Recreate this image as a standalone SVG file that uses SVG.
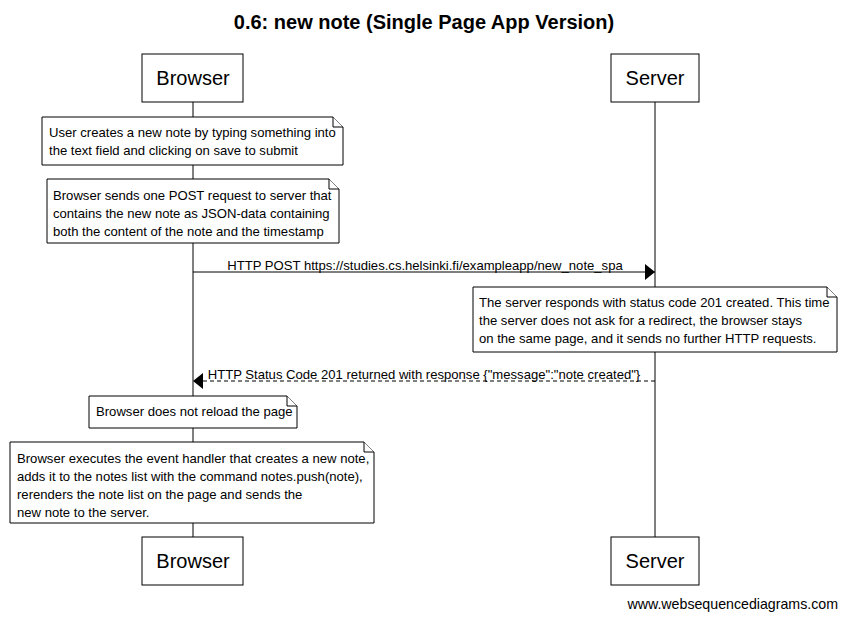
<svg xmlns="http://www.w3.org/2000/svg" width="846" height="620" viewBox="0 0 846 620">
<defs>
<style>
.box{fill:#fff;stroke:#000;stroke-width:1}
.note{fill:#fff;stroke:#000;stroke-width:1}
.life{stroke:#000;stroke-width:1}
.t{font-family:"Liberation Sans",Arial,sans-serif;font-size:13.1px;fill:#000}
.p{font-family:"Liberation Sans",Arial,sans-serif;font-size:20px;fill:#000;text-anchor:middle}
.title{font-family:"Liberation Sans",Arial,sans-serif;font-size:20px;font-weight:bold;text-anchor:middle}
.foot{font-family:"Liberation Sans",Arial,sans-serif;font-size:14.2px;fill:#000;text-anchor:end}
.msg{stroke:#000;stroke-width:1;fill:none}
</style>
<marker id="ah" markerWidth="10" markerHeight="16" refX="10" refY="8" orient="auto" markerUnits="userSpaceOnUse">
<path d="M0,0 L10,8 L0,16 Z" fill="#000"/>
</marker>
</defs>
<rect width="846" height="620" fill="#fff"/>
<text class="title" x="424" y="29">0.6: new note (Single Page App Version)</text>
<g id="lifelines">
<line class="life" x1="193" y1="102" x2="193" y2="537"/>
<line class="life" x1="655" y1="102" x2="655" y2="537"/>
</g>
<g id="browser-top"><rect class="box" x="142" y="54" width="101" height="48"/><text class="p" x="193" y="85">Browser</text></g>
<g id="server-top"><rect class="box" x="611" y="54" width="88" height="48"/><text class="p" x="655" y="85">Server</text></g>
<g id="browser-bottom"><rect class="box" x="142" y="537" width="101" height="48"/><text class="p" x="193" y="568">Browser</text></g>
<g id="server-bottom"><rect class="box" x="611" y="537" width="88" height="48"/><text class="p" x="655" y="568">Server</text></g>
<g id="note1">
<path class="note" d="M42,117 H333 L343,127 V165 H42 Z"/><path class="note" d="M333,117 V127 H343"/>
<text class="t" x="49" y="137">User creates a new note by typing something into</text>
<text class="t" x="49" y="155">the text field and clicking on save to submit</text>
</g>
<g id="note2">
<path class="note" d="M47,179 H329 L339,189 V243 H47 Z"/><path class="note" d="M329,179 V189 H339"/>
<text class="t" x="53" y="200">Browser sends one POST request to server that</text>
<text class="t" x="53" y="218">contains the new note as JSON-data containing</text>
<text class="t" x="53" y="236">both the content of the note and the timestamp</text>
</g>
<g id="note3">
<path class="note" d="M473,287 H827 L837,297 V352 H473 Z"/><path class="note" d="M827,287 V297 H837"/>
<text class="t" x="479" y="307">The server responds with status code 201 created. This time</text>
<text class="t" x="479" y="325">the server does not ask for a redirect, the browser stays</text>
<text class="t" x="479" y="343">on the same page, and it sends no further HTTP requests.</text>
</g>
<g id="note4">
<path class="note" d="M89,396 H287 L297,406 V428 H89 Z"/><path class="note" d="M287,396 V406 H297"/>
<text class="t" x="96" y="416">Browser does not reload the page</text>
</g>
<g id="note5">
<path class="note" d="M10,442 H364 L374,452 V523 H10 Z"/><path class="note" d="M364,442 V452 H374"/>
<text class="t" x="17" y="463">Browser executes the event handler that creates a new note,</text>
<text class="t" x="17" y="481">adds it to the notes list with the command notes.push(note),</text>
<text class="t" x="17" y="499">rerenders the note list on the page and sends the</text>
<text class="t" x="17" y="517">new note to the server.</text>
</g>
<g id="connectors">
<line class="msg" x1="193" y1="272" x2="655" y2="272" marker-end="url(#ah)"/>
<text class="t" x="425" y="270" text-anchor="middle">HTTP POST https://studies.cs.helsinki.fi/exampleapp/new_note_spa</text>
<line class="msg" x1="655" y1="381" x2="193" y2="381" stroke-dasharray="4,3" marker-end="url(#ah)"/>
<text class="t" x="424" y="379" text-anchor="middle">HTTP Status Code 201 returned with response {"message":"note created"}</text>
</g>
<text class="foot" x="838" y="609">www.websequencediagrams.com</text>
</svg>
